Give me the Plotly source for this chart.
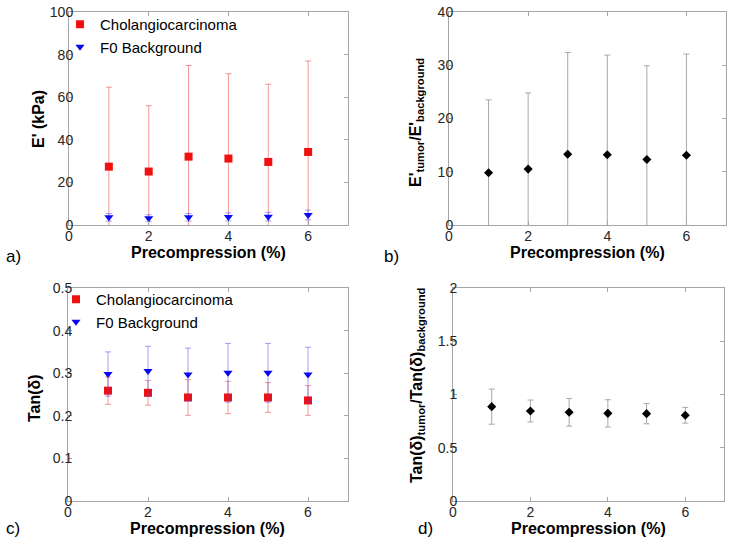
import plotly.graph_objects as go

# ---------------- data ----------------
precomp = [1, 2, 3, 4, 5, 6]

# panel a: storage modulus E' (kPa)
chol_E = [27.4, 25.1, 32.1, 31.2, 29.6, 34.3]
chol_E_err = [37.3, 30.9, 42.8, 39.8, 36.5, 42.7]
bg_E = [3.6, 3.2, 3.6, 3.8, 3.9, 4.7]
bg_E_err = [1.8, 1.6, 1.8, 1.9, 2.0, 2.3]

# panel b: E' ratio
ratio_E = [9.8, 10.5, 13.3, 13.2, 12.3, 13.1]
ratio_E_err = [13.7, 14.3, 19.1, 18.7, 17.6, 19.0]

# panel c: tan(delta)
chol_T = [0.259, 0.254, 0.243, 0.243, 0.243, 0.236]
chol_T_err = [0.032, 0.029, 0.042, 0.038, 0.035, 0.035]
bg_T = [0.298, 0.305, 0.297, 0.301, 0.301, 0.297]
bg_T_err = [0.052, 0.058, 0.062, 0.069, 0.069, 0.064]

# panel d: tan(delta) ratio
ratio_T = [0.886, 0.845, 0.833, 0.823, 0.820, 0.805]
ratio_T_err = [0.165, 0.103, 0.130, 0.128, 0.095, 0.074]

xticks = [0, 2, 4, 6]
yticks_a = [0, 20, 40, 60, 80, 100]
yticks_b = [0, 10, 20, 30, 40]
yticks_c = [0, 0.1, 0.2, 0.3, 0.4, 0.5]
yticks_c_text = ["0", "0.1", "0.2", "0.3", "0.4", "0.5"]
yticks_d = [0, 0.5, 1, 1.5, 2]
yticks_d_text = ["0", "0.5", "1", "1.5", "2"]

x_title = "<b>Precompression (%)</b>"
y_titles = ["<b>E' (kPa)</b>",
            "<b>E'<sub>tumor</sub>/E'<sub>background</sub></b>",
            "<b>Tan(δ)</b>",
            "<b>Tan(δ)<sub>tumor</sub>/Tan(δ)<sub>background</sub></b>"]
panel_labels = ["a)", "b)", "c)", "d)"]

# ---------------- style ----------------
FONT = "Arial, Liberation Sans, sans-serif"
AX = "#a6a6a6"
TXT = "#262626"
RED = "#f01010"
BLUE = "#0a0af0"
RED_ERR = "rgba(235,70,70,0.55)"
BLUE_ERR = "rgba(70,70,235,0.5)"
GRAY_ERR = "#a8a8a8"

fig = go.Figure()

def err(arr, color):
    return dict(type="data", array=arr, visible=True, color=color, thickness=1, width=3)

# panel a
fig.add_trace(go.Scatter(x=precomp, y=chol_E, mode="markers", name="Cholangiocarcinoma",
                         marker=dict(symbol="square", size=8, color=RED),
                         error_y=err(chol_E_err, RED_ERR), xaxis="x", yaxis="y", legend="legend"))
fig.add_trace(go.Scatter(x=precomp, y=bg_E, mode="markers", name="F0 Background",
                         marker=dict(symbol="triangle-down", size=8, color=BLUE),
                         error_y=err(bg_E_err, BLUE_ERR), xaxis="x", yaxis="y", legend="legend"))
# panel b
fig.add_trace(go.Scatter(x=precomp, y=ratio_E, mode="markers", showlegend=False,
                         marker=dict(symbol="diamond", size=7, color="black"),
                         error_y=err(ratio_E_err, GRAY_ERR), xaxis="x2", yaxis="y2"))
# panel c
fig.add_trace(go.Scatter(x=precomp, y=chol_T, mode="markers", name="Cholangiocarcinoma",
                         marker=dict(symbol="square", size=8, color=RED),
                         error_y=err(chol_T_err, RED_ERR), xaxis="x3", yaxis="y3", legend="legend2"))
fig.add_trace(go.Scatter(x=precomp, y=bg_T, mode="markers", name="F0 Background",
                         marker=dict(symbol="triangle-down", size=8, color=BLUE),
                         error_y=err(bg_T_err, BLUE_ERR), xaxis="x3", yaxis="y3", legend="legend2"))
# panel d
fig.add_trace(go.Scatter(x=precomp, y=ratio_T, mode="markers", showlegend=False,
                         marker=dict(symbol="diamond", size=7, color="black"),
                         error_y=err(ratio_T_err, GRAY_ERR), xaxis="x4", yaxis="y4"))

W, H = 735, 545
def px(x0, x1):
    return [x0 / W, x1 / W]
def py(top, bottom):
    return [(H - bottom) / H, (H - top) / H]

def xax(dom, anchor):
    return dict(domain=dom, anchor=anchor, range=[0, 7], tickvals=xticks, automargin=False,
                showline=True, mirror="ticks", linecolor=AX, linewidth=1,
                ticks="inside", ticklen=4, tickcolor=AX, showgrid=False, zeroline=False,
                ticklabelstandoff=-2,
                tickfont=dict(family=FONT, size=14, color=TXT))

def yax(dom, anchor, rng, tv, tt):
    return dict(domain=dom, anchor=anchor, range=rng, tickvals=tv, ticktext=tt, automargin=False,
                showline=True, mirror="ticks", linecolor=AX, linewidth=1,
                ticks="inside", ticklen=4, tickcolor=AX, showgrid=False, zeroline=False,
                ticklabelstandoff=-8,
                tickfont=dict(family=FONT, size=14, color=TXT))

fig.update_layout(
    width=W, height=H,
    margin=dict(l=0, r=0, t=0, b=0, autoexpand=False),
    paper_bgcolor="white", plot_bgcolor="white",
    font=dict(family=FONT, color=TXT),
    xaxis=xax(px(69, 348), "y"),
    yaxis=yax(py(12, 225), "x", [0, 100], yticks_a, [str(v) for v in yticks_a]),
    xaxis2=xax(px(449, 726), "y2"),
    yaxis2=yax(py(12, 225), "x2", [0, 40], yticks_b, [str(v) for v in yticks_b]),
    xaxis3=xax(px(68, 348), "y3"),
    yaxis3=yax(py(288, 501), "x3", [0, 0.5], yticks_c, yticks_c_text),
    xaxis4=xax(px(453, 724), "y4"),
    yaxis4=yax(py(288, 501), "x4", [0, 2], yticks_d, yticks_d_text),
    legend=dict(x=60 / W, y=1 - 8 / H, xanchor="left", yanchor="top",
                bgcolor="rgba(0,0,0,0)", borderwidth=0,
                font=dict(family=FONT, size=15, color="black"), tracegroupgap=0),
    legend2=dict(x=56 / W, y=1 - 283 / H, xanchor="left", yanchor="top",
                 bgcolor="rgba(0,0,0,0)", borderwidth=0,
                 font=dict(family=FONT, size=15, color="black"), tracegroupgap=0),
)

def ann(text, x, y, size, angle=0, anchor="center", color="black"):
    fig.add_annotation(text=text, xref="paper", yref="paper", x=x / W, y=1 - y / H,
                       xanchor=anchor, yanchor="middle", showarrow=False, textangle=angle,
                       font=dict(family=FONT, size=size, color=color))

# x-axis titles
for cx, cy in [(208, 252), (587, 252), (207, 528), (588, 528)]:
    ann(x_title, cx, cy, 16)
# y-axis titles
for t, (cx, cy) in zip(y_titles, [(38, 119), (416, 123), (34, 398), (417, 385)]):
    ann(t, cx, cy, 16, angle=-90)
# panel labels
for t, (lx, ly) in zip(panel_labels, [(4, 256), (382, 256), (4, 528), (416, 528)]):
    ann(t, lx, ly, 17, anchor="left")

fig.write_html("out.html", config={"displayModeBar": False},
               post_script="document.body.style.margin='0';")
